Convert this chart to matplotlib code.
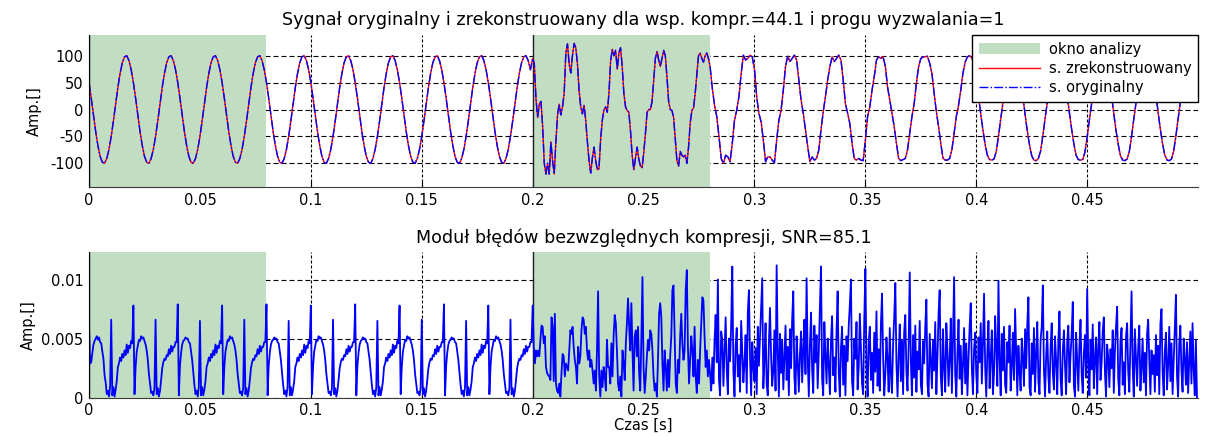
import numpy as np
import matplotlib.pyplot as plt
from matplotlib.patches import Patch
from matplotlib.lines import Line2D

plt.rcParams['font.family'] = ['DejaVu Sans']
plt.rcParams['font.size'] = 10.5
plt.rcParams['axes.unicode_minus'] = False

# --- values ------------------------------------------------------------
# analysis windows [s]
win_start = [0.0, 0.2]
win_end = [0.08, 0.28]

# top signal, one value per 1 ms, 0 .. 0.2 s (one row = one 20 ms period)
sig_a_periods = [
    [50, 21, -10, -41, -67, -87, -98, -100, -91, -74, -50, -21, 10, 41, 67, 87, 98, 100, 91, 74],
    [50, 21, -10, -41, -67, -87, -98, -100, -91, -74, -50, -21, 10, 41, 67, 87, 98, 100, 91, 74],
    [50, 21, -10, -41, -67, -87, -98, -100, -91, -74, -50, -21, 10, 41, 67, 87, 98, 100, 91, 74],
    [50, 21, -10, -41, -67, -87, -98, -100, -91, -74, -50, -21, 10, 41, 67, 87, 98, 100, 91, 74],
    [50, 21, -10, -41, -67, -87, -98, -100, -91, -74, -50, -21, 10, 41, 67, 87, 98, 100, 91, 74],
    [50, 21, -10, -41, -67, -87, -98, -100, -91, -74, -50, -21, 10, 41, 67, 87, 98, 100, 91, 74],
    [50, 21, -10, -41, -67, -87, -98, -100, -91, -74, -50, -21, 10, 41, 67, 87, 98, 100, 91, 74],
    [50, 21, -10, -41, -67, -87, -98, -100, -91, -74, -50, -21, 10, 41, 67, 87, 98, 100, 91, 74],
    [50, 21, -10, -41, -67, -87, -98, -100, -91, -74, -50, -21, 10, 41, 67, 87, 98, 100, 91, 74],
    [50, 21, -10, -41, -67, -87, -98, -100, -91, -74, -50, -21, 10, 41, 67, 87, 98, 100, 91, 74],
]

# top signal inside the second window, 0.2 .. 0.28 s (evenly spaced)
sig_b = [95, 85, 20, -15, 10, 15, -30, -100, -120, -100, -120, -60, -95, -120, -60, -10,
         10, -10, 5, 30, 105, 122, 85, 68, 100, 123, 115, 85, 35, 5, -8, 8, -20, -60,
         -95, -118, -90, -70, -95, -112, -110, -55, -20, 0, 5, -5, 30, 90, 112, 100, 110,
         75, 105, 115, 80, 30, 5, -2, -5, -40, -85, -112, -90, -70, -92, -105, -108, -80,
         -45, -5, 0, 0, 15, 55, 95, 108, 92, 80, 95, 110, 100, 60, 15, 0, -2, -15, -55,
         -95, -105, -78, -85, -88, -85, -100, -70, -25, -2, 3, 30, 65, 100, 105, 95, 88,
         100, 105, 95]

# top signal, one value per 1 ms, 0.28 .. 0.5 s
sig_c_periods = [
    [80, 39, 8, -13, -50, -91, -100, -85, -88, -97, -63, -20, -1, 24, 67, 101, 92, 95, 101, 98],
    [75, 24, -7, -23, -57, -97, -88, -88, -94, -99, -57, -20, -1, 36, 80, 99, 89, 95, 101, 92],
    [55, 18, -7, -38, -69, -97, -88, -94, -91, -75, -38, -4, 24, 55, 80, 98, 89, 95, 101, 92],
    [55, 11, -7, -26, -63, -91, -94, -91, -94, -95, -57, -13, 5, 36, 61, 92, 98, 95, 98, 80],
    [42, 18, -7, -32, -63, -91, -95, -93, -91, -75, -44, -13, 11, 49, 80, 95, 98, 98, 99, 86],
    [67, 30, -4, -32, -63, -91, -94, -94, -91, -75, -44, -13, 8, 36, 68, 88, 98, 100, 96, 82],
    [60, 25, -8, -38, -65, -85, -93, -94, -92, -78, -50, -18, 12, 42, 68, 88, 98, 100, 95, 80],
    [58, 24, -9, -40, -66, -86, -94, -95, -91, -77, -49, -17, 13, 43, 69, 89, 98, 100, 94, 79],
    [59, 26, -7, -37, -64, -85, -93, -94, -93, -79, -51, -19, 11, 41, 67, 87, 97, 99, 95, 81],
    [60, 25, -8, -39, -65, -86, -94, -95, -92, -78, -50, -18, 12, 42, 68, 88, 98, 100, 95, 80],
    [61, 27, -6, -37, -64, -85, -94, -95, -92, -77, -49, -17, 13, 43, 69, 89, 98, 100, 96, 81],
]

# absolute error [1e-3], one value per 0.5 ms, 0 .. 0.2 s
err_a_periods = [
    [6.0, 2.9, 3.0, 3.8, 4.5, 4.8, 5.0, 5.2, 4.9, 5.1, 4.7, 4.6, 3.9, 3.3, 1.9, 1.3, 0.3, 0.6, 0.1, 0.9,
     6.6, 0.2, 0.9, 0.1, 0.7, 1.4, 2.6, 2.9, 3.4, 3.1, 3.7, 3.4, 4.0, 3.6, 4.5, 3.8, 4.4, 4.2, 4.8, 4.6],
    [7.8, 0.3, 2.6, 3.9, 4.4, 4.9, 4.8, 5.2, 5.0, 5.1, 4.8, 4.5, 4.0, 3.2, 2.0, 1.2, 0.4, 0.5, 0.2, 0.8,
     6.6, 0.3, 0.8, 0.1, 0.6, 1.5, 2.5, 3.0, 3.3, 3.2, 3.6, 3.5, 4.1, 3.7, 4.4, 3.9, 4.3, 4.3, 4.7, 4.7],
    [7.9, 0.2, 2.7, 3.8, 4.5, 4.8, 4.9, 5.1, 5.0, 5.0, 4.7, 4.6, 3.9, 3.2, 2.1, 1.1, 0.3, 0.6, 0.1, 0.9,
     6.5, 0.2, 0.9, 0.2, 0.7, 1.4, 2.6, 2.9, 3.4, 3.1, 3.7, 3.4, 4.0, 3.6, 4.5, 3.8, 4.4, 4.2, 4.8, 4.6],
    [7.8, 0.3, 2.6, 3.9, 4.4, 4.9, 4.8, 5.2, 5.0, 5.1, 4.8, 4.5, 4.0, 3.2, 2.0, 1.2, 0.4, 0.5, 0.2, 0.8,
     6.6, 0.3, 0.8, 0.1, 0.6, 1.5, 2.5, 3.0, 3.3, 3.2, 3.6, 3.5, 4.1, 3.7, 4.4, 3.9, 4.3, 4.3, 4.7, 4.7],
    [7.9, 0.2, 2.7, 3.8, 4.5, 4.8, 4.9, 5.1, 5.0, 5.0, 4.7, 4.6, 3.9, 3.2, 2.1, 1.1, 0.3, 0.6, 0.1, 0.9,
     6.5, 0.2, 0.9, 0.2, 0.7, 1.4, 2.6, 2.9, 3.4, 3.1, 3.7, 3.4, 4.0, 3.6, 4.5, 3.8, 4.4, 4.2, 4.8, 4.6],
    [7.8, 0.3, 2.6, 3.9, 4.4, 4.9, 4.8, 5.2, 5.0, 5.1, 4.8, 4.5, 4.0, 3.2, 2.0, 1.2, 0.4, 0.5, 0.2, 0.8,
     6.6, 0.3, 0.8, 0.1, 0.6, 1.5, 2.5, 3.0, 3.3, 3.2, 3.6, 3.5, 4.1, 3.7, 4.4, 3.9, 4.3, 4.3, 4.7, 4.7],
    [7.9, 0.2, 2.7, 3.8, 4.5, 4.8, 4.9, 5.1, 5.0, 5.0, 4.7, 4.6, 3.9, 3.2, 2.1, 1.1, 0.3, 0.6, 0.1, 0.9,
     6.5, 0.2, 0.9, 0.2, 0.7, 1.4, 2.6, 2.9, 3.4, 3.1, 3.7, 3.4, 4.0, 3.6, 4.5, 3.8, 4.4, 4.2, 4.8, 4.6],
    [7.8, 0.3, 2.6, 3.9, 4.4, 4.9, 4.8, 5.2, 5.0, 5.1, 4.8, 4.5, 4.0, 3.2, 2.0, 1.2, 0.4, 0.5, 0.2, 0.8,
     6.6, 0.3, 0.8, 0.1, 0.6, 1.5, 2.5, 3.0, 3.3, 3.2, 3.6, 3.5, 4.1, 3.7, 4.4, 3.9, 4.3, 4.3, 4.7, 4.7],
    [7.9, 0.2, 2.7, 3.8, 4.5, 4.8, 4.9, 5.1, 5.0, 5.0, 4.7, 4.6, 3.9, 3.2, 2.1, 1.1, 0.3, 0.6, 0.1, 0.9,
     6.5, 0.2, 0.9, 0.2, 0.7, 1.4, 2.6, 2.9, 3.4, 3.1, 3.7, 3.4, 4.0, 3.6, 4.5, 3.8, 4.4, 4.2, 4.8, 4.6],
    [7.8, 0.3, 2.6, 3.9, 4.4, 4.9, 4.8, 5.2, 5.0, 5.1, 4.8, 4.5, 4.0, 3.2, 2.0, 1.2, 0.4, 0.5, 0.2, 0.8,
     6.6, 0.3, 0.8, 0.1, 0.6, 1.5, 2.5, 3.0, 3.3, 3.2, 3.6, 3.5, 4.1, 3.7, 4.4, 3.9, 4.3, 4.3, 4.7, 4.7],
]

# absolute error [1e-3], 0.2 .. 0.28 s (evenly spaced)
err_b = [7.8, 4.3, 2.9, 4.0, 3.5, 4.0, 3.5, 4.9, 6.1, 6.0, 4.6, 5.2, 2.6, 2.1, 1.9, 1.8, 1.5,
         6.8, 6.0, 1.4, 7.1, 1.2, 0.6, 0.4, 1.2, 0.1, 2.1, 3.7, 3.5, 1.8, 2.9, 2.6, 2.3, 4.0,
         5.7, 5.4, 6.0, 4.3, 3.2, 2.6, 1.2, 4.3, 2.9, 3.5, 5.7, 6.8, 6.6, 5.4, 6.0, 4.0, 3.2,
         4.0, 2.6, 3.2, 2.3, 1.2, 2.3, 0.6, 4.0, 9.0, 1.8, 0.1, 2.3, 0.9, 2.6, 1.8, 0.6, 4.9,
         2.6, 2.6, 1.2, 4.6, 1.8, 5.2, 7.0, 6.3, 4.0, 1.2, 0.6, 1.8, 0.1, 4.0, 2.9, 1.5, 4.6,
         6.3, 8.4, 6.0, 4.0, 8.0, 4.0, 0.6, 5.2, 5.7, 3.5, 6.0, 2.1, 0.6, 4.9, 10.2, 2.6, 0.4,
         1.8, 3.5, 4.9, 4.0, 5.7, 5.4, 4.0, 1.8, 0.6, 1.2, 0.1, 3.2, 7.1, 8.0, 6.8, 2.9, 0.6,
         4.0, 2.6, 0.6, 3.2, 0.9, 3.5, 5.2, 9.1, 9.5, 5.2, 1.2, 0.4, 3.2, 2.1, 5.2, 7.1, 4.6,
         3.2, 4.0, 9.1, 10.8, 4.3, 1.2, 3.2, 5.2, 4.0, 1.8, 6.0, 1.8, 0.4, 3.2, 1.2, 4.0, 6.3,
         8.5, 8.2, 5.2, 2.6, 4.0, 1.8, 3.2]

# absolute error [1e-3], one value per 0.5 ms, 0.28 .. 0.5 s
err_c_periods = [
    [2.0, 0.6, 3.4, 1.2, 4.8, 7.0, 3.0, 10.0, 1.5, 0.2, 5.6, 4.9, 1.0, 3.8, 6.8, 2.4, 0.3, 5.0, 3.1, 6.2,
     11.1, 2.2, 0.1, 4.4, 5.9, 1.8, 3.6, 0.5, 6.5, 4.0, 1.3, 2.9, 5.3, 0.4, 7.2, 9.1, 3.3, 0.2, 4.7, 2.6],
    [1.4, 4.2, 0.3, 6.0, 2.7, 5.1, 7.4, 10.1, 0.8, 3.2, 6.3, 1.1, 0.2, 4.6, 7.6, 3.5, 1.0, 2.4, 5.7, 0.6,
     11.2, 3.9, 0.1, 5.4, 2.1, 4.9, 0.7, 3.3, 6.1, 1.5, 4.3, 0.2, 5.8, 2.5, 6.7, 9.0, 1.7, 0.3, 5.2, 3.0],
    [0.5, 3.7, 5.6, 1.3, 4.1, 6.6, 2.0, 10.1, 3.4, 0.1, 4.5, 7.2, 2.3, 0.4, 6.1, 3.0, 5.3, 0.8, 3.9, 7.7,
     11.1, 1.6, 0.2, 6.4, 3.6, 1.2, 5.0, 2.8, 0.3, 4.8, 6.9, 1.9, 3.4, 0.5, 5.7, 9.0, 2.1, 0.1, 4.2, 6.0],
    [1.1, 4.4, 0.2, 5.2, 3.1, 6.1, 7.9, 10.0, 1.4, 0.2, 5.0, 3.3, 6.4, 0.7, 2.6, 7.1, 4.0, 1.2, 0.3, 6.6,
     10.9, 2.7, 0.1, 4.7, 6.0, 1.5, 3.8, 0.4, 5.5, 2.2, 7.3, 1.0, 4.1, 0.6, 6.2, 8.8, 3.5, 0.2, 2.0, 5.1],
    [3.2, 0.5, 5.9, 2.0, 0.4, 4.6, 6.8, 9.7, 2.9, 0.1, 3.6, 6.2, 1.4, 4.9, 0.3, 5.6, 7.0, 2.2, 0.6, 4.4,
     10.6, 3.0, 0.2, 5.3, 1.7, 6.1, 0.5, 3.9, 2.4, 6.5, 1.1, 0.3, 4.8, 2.9, 6.0, 8.3, 1.2, 0.1, 5.4, 3.1],
    [0.8, 4.9, 2.3, 6.4, 0.3, 3.5, 7.1, 9.1, 1.8, 0.2, 5.8, 2.6, 0.5, 6.3, 4.0, 1.0, 3.2, 6.7, 0.4, 5.0,
     10.2, 2.0, 0.1, 3.7, 6.6, 1.6, 4.4, 0.3, 2.8, 5.9, 1.2, 4.6, 0.2, 3.3, 6.0, 8.0, 2.5, 0.3, 4.1, 5.5],
    [1.9, 0.4, 5.1, 3.0, 6.3, 1.2, 4.5, 8.8, 2.6, 0.1, 4.0, 6.5, 0.8, 3.4, 5.7, 0.3, 2.1, 6.9, 4.2, 1.0,
     9.9, 3.3, 0.2, 5.4, 2.3, 6.0, 1.1, 0.4, 4.7, 3.0, 6.1, 0.6, 2.7, 5.5, 1.5, 7.5, 3.8, 0.2, 4.4, 2.2],
    [0.6, 5.0, 3.4, 1.0, 5.8, 2.5, 6.2, 8.5, 0.9, 0.2, 4.6, 2.0, 5.9, 0.5, 3.7, 6.4, 1.4, 0.3, 4.9, 6.0,
     9.5, 2.4, 0.1, 3.5, 5.6, 1.8, 0.4, 4.3, 6.3, 2.1, 0.7, 5.2, 3.1, 0.3, 4.8, 7.3, 1.6, 0.2, 3.9, 5.7],
    [2.8, 0.3, 4.7, 6.1, 1.3, 3.6, 5.4, 8.1, 1.0, 0.1, 5.5, 3.2, 0.6, 4.4, 6.6, 2.0, 0.4, 3.8, 5.3, 1.7,
     9.2, 3.0, 0.2, 4.9, 2.4, 6.2, 0.8, 3.3, 5.1, 0.3, 4.2, 6.4, 1.5, 2.9, 5.6, 6.8, 2.2, 0.1, 4.5, 3.4],
    [0.9, 4.1, 2.5, 5.7, 0.4, 3.9, 6.0, 7.7, 1.6, 0.2, 4.8, 5.9, 1.1, 3.0, 0.3, 5.2, 6.3, 2.2, 0.5, 4.6,
     9.0, 2.7, 0.1, 5.8, 3.5, 1.0, 4.3, 6.1, 0.6, 2.6, 5.0, 1.3, 3.8, 0.2, 5.4, 6.6, 3.1, 0.3, 4.0, 2.0],
    [3.6, 0.5, 5.3, 1.9, 4.4, 0.3, 6.2, 7.5, 2.1, 0.2, 3.9, 5.5, 0.7, 2.8, 6.0, 1.4, 4.6, 0.3, 3.2, 5.8,
     8.7, 1.8, 0.1, 4.5, 6.1, 2.3, 0.5, 5.0, 3.3, 1.1, 4.7, 0.4, 2.9, 5.6, 1.2, 6.3, 2.4, 0.2, 4.9, 0.0],
]

x_ticks = [0, 0.05, 0.1, 0.15, 0.2, 0.25, 0.3, 0.35, 0.4, 0.45]
x_tick_labels = ['0', '0.05', '0.1', '0.15', '0.2', '0.25', '0.3', '0.35', '0.4', '0.45']
y_ticks_sig = [-100, -50, 0, 50, 100]
y_ticks_err = [0, 0.005, 0.01]
y_tick_labels_err = ['0', '0.005', '0.01']

# --- assemble the sampled series -----------------------------------------
sig_a = np.ravel(sig_a_periods)
sig_c = np.ravel(sig_c_periods)
t_sig = np.concatenate([
    np.arange(len(sig_a)) * 0.001,
    win_start[1] + np.arange(len(sig_b)) * (win_end[1] - win_start[1]) / len(sig_b),
    win_end[1] + np.arange(len(sig_c)) * 0.001,
])
sig_orig = np.concatenate([sig_a, sig_b, sig_c])
sig_rec = sig_orig.copy()  # difference is far below what the picture shows

err_a = np.ravel(err_a_periods)
err_c = np.ravel(err_c_periods)
t_err = np.concatenate([
    np.arange(len(err_a)) * 0.0005,
    win_start[1] + np.arange(len(err_b)) * (win_end[1] - win_start[1]) / len(err_b),
    win_end[1] + np.arange(len(err_c)) * 0.0005,
])
err = np.concatenate([err_a, err_b, err_c]) * 1e-3

green = '#c1dec3'

fig = plt.figure(figsize=(12.08, 4.36), dpi=100)
ax1 = fig.add_axes([0.0737, 0.5711, 0.9181, 0.3486])
ax2 = fig.add_axes([0.0737, 0.0878, 0.9181, 0.3335])


def style_axes(ax):
    ax.set_axisbelow(True)
    ax.yaxis.grid(True, color='black', lw=0.8, ls=(0, (4.5, 2.7)))
    ax.xaxis.grid(True, color='black', lw=0.8, ls=(0, (2.7, 1.8)))
    for s in ['top', 'right']:
        ax.spines[s].set_visible(False)
    ax.spines['left'].set_color('black')
    ax.spines['bottom'].set_color('#3a3a3a')
    ax.tick_params(direction='in', length=4, width=0.8, pad=4)
    ax.set_xlim(0, 0.5)
    ax.set_xticks(x_ticks)
    ax.set_xticklabels(x_tick_labels)
    for a, b in zip(win_start, win_end):
        ax.axvspan(a, b, color=green, lw=0, zorder=1)
        ax.axvline(a, color='#202020', lw=1, zorder=1.5)


style_axes(ax1)
ax1.plot(t_sig, sig_rec, color='red', lw=1, zorder=2)
ax1.plot(t_sig, sig_orig, color='blue', lw=1, ls='-.', zorder=2.1)
ax1.set_ylim(-144, 138.5)
ax1.set_yticks(y_ticks_sig)
ax1.set_ylabel('Amp.[]', labelpad=6)
ax1.set_title('Sygnał oryginalny i zrekonstruowany dla wsp. kompr.=44.1 i progu wyzwalania=1', pad=7)

handles = [Patch(facecolor=green, edgecolor='none'),
           Line2D([], [], color='red', lw=1),
           Line2D([], [], color='blue', lw=1, ls='-.')]
labels = ['okno analizy', 's. zrekonstruowany', 's. oryginalny']
leg = ax1.legend(handles, labels, loc='upper right', bbox_to_anchor=(1.0, 1.0),
                 borderaxespad=0, fancybox=False, framealpha=1, edgecolor='black',
                 handlelength=4.2, handletextpad=0.6, borderpad=0.45, labelspacing=0.3)
leg.get_frame().set_linewidth(1)
leg.set_zorder(5)

style_axes(ax2)
ax2.plot(t_err, err, color='blue', lw=1.3, zorder=2)
ax2.set_ylim(0, 0.0123)
ax2.set_yticks(y_ticks_err)
ax2.set_yticklabels(y_tick_labels_err)
ax2.set_ylabel('Amp.[]', labelpad=4)
ax2.set_xlabel('Czas [s]', labelpad=0)
ax2.set_title('Moduł błędów bezwzględnych kompresji, SNR=85.1', pad=7)

fig.savefig('out.png', dpi=100, facecolor='white')
